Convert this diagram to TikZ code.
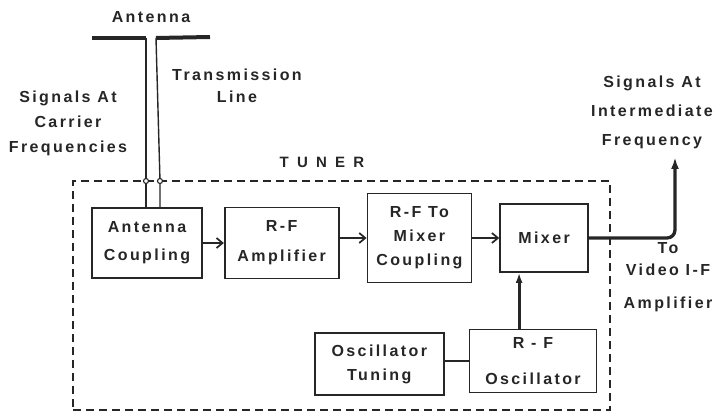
\documentclass[tikz,border=0pt]{standalone}
\usepackage{fontspec}
\newfontfamily\diagfont[LetterSpace=15]{Liberation Sans}
\usetikzlibrary{arrows.meta, positioning, calc}
\definecolor{ink}{HTML}{262626}
\tikzset{
  block/.style    = {rectangle, draw=ink, line width=1.7pt, fill=white, align=center,
                      text=ink, font=\diagfont\bfseries\fontsize{16}{24}\selectfont, inner sep=2pt},
  lbl/.style      = {align=center, text=ink, font=\diagfont\bfseries\fontsize{16}{25}\selectfont,
                      inner sep=0pt},
  tuner/.style    = {rectangle, draw=ink, line width=1.9pt, dash pattern=on 8pt off 5pt},
  feed/.style     = {draw=ink, line width=1.4pt},
  dipole/.style   = {draw=ink, line width=4pt},
  term/.style     = {circle, draw=ink, fill=white, line width=1.1pt, minimum size=5pt, inner sep=0pt},
  flow/.style     = {-{Straight Barb[length=6pt, width=10pt, line width=1.7pt]}, draw=ink, line width=2.4pt},
  flowup/.style   = {-{Latex[length=10pt, width=7pt]}, draw=ink, line width=2.8pt},
  ifout/.style    = {-{Latex[length=12pt, width=8pt]}, draw=ink, line width=3.3pt, rounded corners=8pt},
  link/.style     = {draw=ink, line width=2.4pt},
}

\begin{document}
\begin{tikzpicture}[x=1pt, y=-1pt]
  \useasboundingbox (0,0) rectangle (726,417);

  % tuner outline
  \node[tuner, minimum width=537pt, minimum height=229pt] (tunerbox) at (341.5,295.5) {};
  \node[lbl, font=\diagfont\bfseries\fontsize{15}{24}\selectfont\addfontfeature{LetterSpace=55}] (tunerlbl) at (322,162) {TUNER};

  % signal chain
  \node[block, minimum width=110pt, minimum height=70pt] (ac) at (147,243) {Antenna\\[4pt]Coupling};
  \node[block, right=21pt of ac, minimum width=114pt, minimum height=71pt] (rfamp) {R-F\\[6pt]Amplifier};
  \node[block, right=27pt of rfamp, yshift=5pt, minimum width=104pt, minimum height=89pt] (rfmix) {R-F To\\Mixer\\Coupling};
  \node[block, right=27pt of rfmix, minimum width=88pt, minimum height=68pt] (mixer) {Mixer};

  % oscillator
  \node[block, minimum width=127pt, minimum height=63pt] (rfosc) at (533,361) {R - F\\[12pt]Oscillator};
  \node[block, left=24pt of rfosc, yshift=-3pt, minimum width=129pt, minimum height=62pt] (osctune) {Oscillator\\Tuning};

  % antenna and transmission line
  \coordinate (antL) at (146,38);
  \coordinate (antR) at (156,38);
  \draw[dipole] (92,38) -- (antL);
  \draw[dipole] (antR) -- (210,37);
  \node[term] (termL) at (146,181) {};
  \node[term] (termR) at (160,181) {};
  \draw[feed] (antL) -- (termL) -- (termL |- ac.north);
  \draw[feed] (antR) -- (termR) -- (termR |- ac.north);

  % connectors
  \draw[flow] (ac) -- (rfamp);
  \draw[flow] (rfamp.east |- rfmix.west) -- (rfmix.west);
  \draw[flow] (rfmix) -- (mixer);
  \draw[link] (osctune.east |- rfosc.west) -- (rfosc.west);
  \draw[flowup] ([xshift=-25pt]mixer.south |- rfosc.north) -- ([xshift=-25pt]mixer.south);
  \coordinate (ifend) at (675,157);
  \draw[ifout] (mixer.east) -| (ifend);

  % labels
  \node[lbl] (antlbl) at (151,17) {Antenna};
  \node[lbl, font=\diagfont\bfseries\fontsize{16}{22}\selectfont] (txlbl) at (237,86) {Transmission\\Line};
  \node[lbl] (carrierlbl) at (68,123) {Signals At\\Carrier\\Frequencies};
  \node[lbl] (iflbl) at (652,112) {Signals At\\[4pt]Intermediate\\[4pt]Frequency};
  \node[lbl, font=\diagfont\bfseries\fontsize{16}{22}\selectfont] (videolbl) at (668,277) {To\\Video I-F\\[11pt]Amplifier};
\end{tikzpicture}
\end{document}
